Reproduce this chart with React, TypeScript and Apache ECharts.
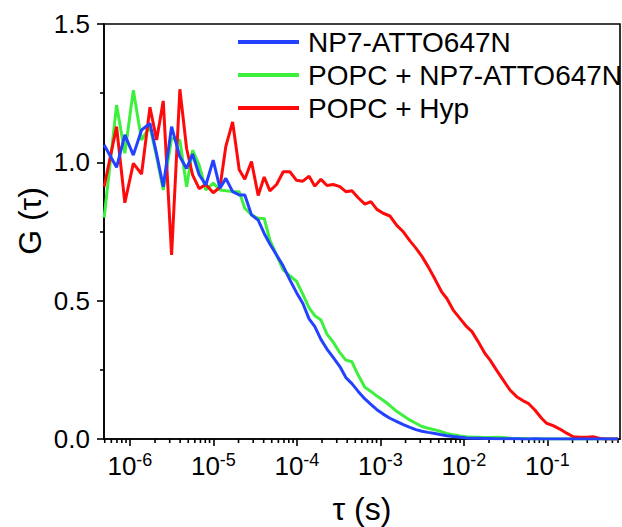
import React, { useEffect, useRef } from "react";
import * as echarts from "echarts";

// Lag time tau (s)
const tau = [
  4.92e-7, 6.93e-7, 8.71e-7, 1.10e-6, 1.38e-6, 1.74e-6, 2.09e-6, 2.51e-6, 3.16e-6, 3.97e-6,
  4.78e-6, 5.63e-6, 6.76e-6, 8.13e-6, 9.95e-6, 1.20e-5, 1.41e-5, 1.70e-5, 2.04e-5, 2.38e-5,
  2.86e-5, 3.44e-5, 4.06e-5, 4.75e-5, 5.71e-5, 6.86e-5, 8.24e-5, 9.91e-5, 1.18e-4, 1.40e-4,
  1.64e-4, 1.94e-4, 2.29e-4, 2.72e-4, 3.27e-4, 3.86e-4, 4.56e-4, 5.42e-4, 6.52e-4, 7.69e-4,
  9.08e-4, 1.08e-3, 1.30e-3, 1.58e-3, 1.88e-3, 2.26e-3, 2.66e-3, 3.14e-3, 3.73e-3, 4.50e-3,
  5.41e-3, 6.25e-3, 7.45e-3, 8.95e-3, 1.08e-2, 1.25e-2, 1.48e-2, 1.78e-2, 2.05e-2, 2.46e-2,
  2.96e-2, 3.56e-2, 4.28e-2, 5.13e-2, 5.89e-2, 7.08e-2, 8.51e-2, 9.77e-2, 0.117, 0.141,
  0.170, 0.204, 0.245, 0.294, 0.353, 0.425, 0.511, 0.614, 0.698,
];

const gNP7 = [
  1.063, 0.982, 1.099, 1.026, 1.117, 1.141, 1.03, 0.912, 1.129, 1.02,
  0.978, 1.03, 0.955, 0.918, 1.008, 0.906, 0.942, 0.894, 0.882, 0.882,
  0.81, 0.791, 0.743, 0.705, 0.665, 0.625, 0.575, 0.529, 0.49, 0.434,
  0.406, 0.36, 0.325, 0.295, 0.262, 0.222, 0.2, 0.172, 0.145, 0.125,
  0.106, 0.09, 0.075, 0.063, 0.052, 0.042, 0.034, 0.028, 0.024, 0.02,
  0.015, 0.012, 0.009, 0.006, 0.004, 0.003, 0.003, 0.002, 0.002, 0.001,
  0.001, 0.001, 0.001, 0.0, 0.0, 0.001, 0.0, 0.0, 0.0, 0.0,
  0.0, 0.0, 0.0, 0.0, 0.0, 0.0, 0.0, 0.0, 0.0,
];

const gPOPCNP7 = [
  0.80, 1.207, 1.033, 1.261, 1.081, 1.129, 1.02, 0.90, 1.087, 1.08,
  0.912, 1.044, 0.99, 0.90, 0.925, 0.90, 0.897, 0.895, 0.894, 0.834,
  0.81, 0.798, 0.797, 0.719, 0.665, 0.611, 0.59, 0.57, 0.523, 0.474,
  0.446, 0.43, 0.379, 0.35, 0.312, 0.285, 0.279, 0.231, 0.187, 0.172,
  0.155, 0.14, 0.121, 0.099, 0.084, 0.068, 0.057, 0.045, 0.039, 0.033,
  0.026, 0.02, 0.015, 0.011, 0.008, 0.006, 0.006, 0.005, 0.005, 0.006,
  0.005, 0.003, 0.002, 0.002, 0.001, 0.0, 0.001, 0.0, 0.0, 0.0,
  0.0, 0.0, 0.0, 0.0, 0.0, 0.0, 0.0, 0.0, 0.0,
];

const gPOPCHyp = [
  0.912, 1.129, 0.854, 0.996, 0.958, 1.199, 1.081, 1.222, 0.665, 1.264,
  1.05, 0.955, 0.905, 0.92, 0.89, 0.91, 1.058, 1.146, 0.973, 0.939,
  1.003, 0.88, 0.947, 0.897, 0.92, 0.966, 0.966, 0.935, 0.932, 0.95,
  0.914, 0.939, 0.916, 0.92, 0.912, 0.894, 0.897, 0.872, 0.849, 0.858,
  0.83, 0.816, 0.806, 0.771, 0.749, 0.716, 0.69, 0.66, 0.623, 0.578,
  0.532, 0.508, 0.466, 0.436, 0.406, 0.388, 0.352, 0.31, 0.286, 0.249,
  0.213, 0.177, 0.153, 0.138, 0.129, 0.105, 0.075, 0.057, 0.048, 0.036,
  0.021, 0.008, 0.006, 0.006, 0.008, 0.002, 0.0, 0.0, 0.0,
];

const seriesNames = ["NP7-ATTO647N", "POPC + NP7-ATTO647N", "POPC + Hyp"];
const seriesColors = ["#2342FF", "#3EF03E", "#FF0A0A"];
const xMin = 4.9e-7;
const xMax = 0.74;
const yTickLabels = ["0.0", "0.5", "1.0", "1.5"];
const xAxisTitle = "τ (s)";
const yAxisTitle = "G (τ)";

const FONT = "'Liberation Sans', Arial, Helvetica, sans-serif";

function buildMinorTicks(): number[][] {
  const out: number[][] = [];
  for (let e = -7; e <= 0; e++) {
    for (let m = 2; m <= 9; m++) {
      const v = m * Math.pow(10, e);
      if (v > xMin && v < xMax) out.push([v, 0]);
    }
  }
  return out;
}

export default function App() {
  const ref = useRef<HTMLDivElement>(null);

  useEffect(() => {
    if (!ref.current) return;
    const chart = echarts.init(ref.current, undefined, { renderer: "svg" });
    const pairs = (g: number[]) => tau.map((t, i) => [t, g[i]]);
    const lineSeries = (idx: number, g: number[], z: number) => ({
      name: seriesNames[idx],
      type: "line",
      data: pairs(g),
      showSymbol: false,
      symbol: "none",
      z,
      lineStyle: { color: seriesColors[idx], width: 3 },
      itemStyle: { color: seriesColors[idx] },
    });

    chart.setOption({
      animation: false,
      backgroundColor: "#fff",
      grid: {
        left: 104,
        top: 24,
        right: 2,
        bottom: 88,
        show: true,
        borderColor: "#000",
        borderWidth: 1.6,
        containLabel: false,
        outerBoundsMode: "none",
      },
      legend: {
        data: seriesNames,
        orient: "vertical",
        left: 238,
        top: 28,
        padding: 0,
        icon: "rect",
        itemWidth: 61,
        itemHeight: 4,
        itemGap: 5,
        textStyle: {
          fontSize: 28,
          fontFamily: FONT,
          color: "#000",
          lineHeight: 28,
          padding: [0, 0, 0, 4],
        },
      },
      xAxis: {
        type: "log",
        logBase: 10,
        min: xMin,
        max: xMax,
        splitLine: { show: false },
        axisLine: { lineStyle: { color: "#000", width: 1.6 } },
        axisTick: { show: true, inside: false, length: 7, lineStyle: { color: "#000", width: 1.6 } },
        axisLabel: {
          margin: 12,
          showMinLabel: false,
          showMaxLabel: false,
          formatter: (v: number) => {
            const l = Math.log10(v);
            const r = Math.round(l);
            if (Math.abs(l - r) > 1e-6) return "";
            return "{b|10}{s|" + r + "}";
          },
          rich: {
            b: { fontSize: 26, fontFamily: FONT, color: "#000", lineHeight: 30 },
            s: { fontSize: 18, fontFamily: FONT, color: "#000", verticalAlign: "top", lineHeight: 22 },
          },
        },
      },
      yAxis: {
        type: "value",
        min: 0,
        max: 1.5,
        interval: 0.5,
        splitLine: { show: false },
        axisLine: { show: true, lineStyle: { color: "#000", width: 1.6 } },
        axisTick: { show: true, inside: false, length: 7, lineStyle: { color: "#000", width: 1.6 } },
        minorTick: { show: true, splitNumber: 2, length: 4, lineStyle: { color: "#000", width: 1.6 } },
        axisLabel: {
          margin: 14,
          fontSize: 26,
          fontFamily: FONT,
          color: "#000",
          formatter: (v: number) => {
            const i = Math.round(v / 0.5);
            return yTickLabels[i] ?? v.toFixed(1);
          },
        },
      },
      graphic: [
        {
          type: "text",
          x: 30,
          y: 221,
          rotation: Math.PI / 2,
          style: {
            text: yAxisTitle,
            font: "32px " + FONT,
            fill: "#000",
            align: "center",
            verticalAlign: "middle",
          },
        },
        {
          type: "text",
          x: 362,
          y: 509,
          style: {
            text: xAxisTitle,
            font: "32px " + FONT,
            fill: "#000",
            align: "center",
            verticalAlign: "middle",
          },
        },
      ],
      series: [
        lineSeries(1, gPOPCNP7, 2),
        lineSeries(2, gPOPCHyp, 3),
        lineSeries(0, gNP7, 4),
        {
          type: "custom",
          name: "minorTicks",
          silent: true,
          clip: false,
          data: buildMinorTicks(),
          encode: { x: 0, y: 1 },
          renderItem: (_p: any, api: any) => {
            const pt = api.coord([api.value(0), 0]);
            return {
              type: "line",
              shape: { x1: pt[0], y1: pt[1], x2: pt[0], y2: pt[1] + 4 },
              style: { stroke: "#000", lineWidth: 1.6 },
            };
          },
        },
      ],
    });
    return () => chart.dispose();
  }, []);

  return (
    <div
      ref={ref}
      style={{ position: "absolute", left: 0, top: 0, width: 622, height: 527, background: "#fff" }}
    />
  );
}
